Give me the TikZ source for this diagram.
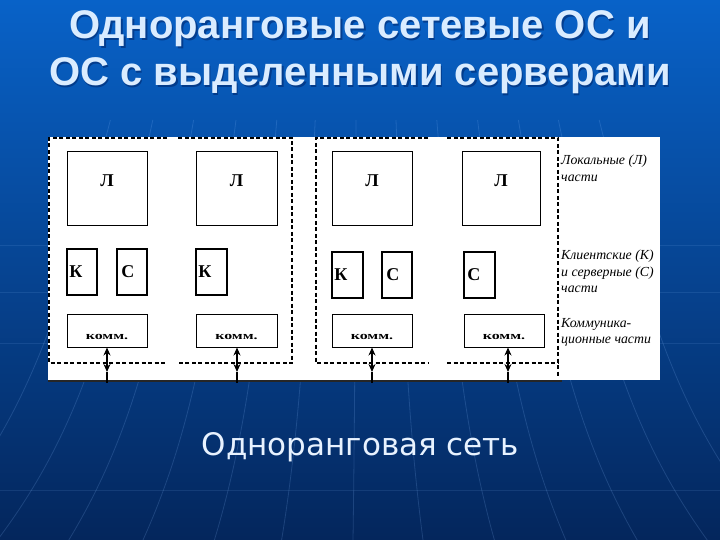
\documentclass[tikz,border=0pt]{standalone}
\usepackage{fontspec}
\usepackage{graphicx}
\setmainfont{Liberation Serif}
\newfontfamily\titlefont{Liberation Sans}
\newfontfamily\subfont{DejaVu Sans}
\usetikzlibrary{arrows.meta}
\definecolor{bgtop}{RGB}{8,98,200}
\definecolor{bgmid}{RGB}{8,72,160}
\definecolor{bgbot}{RGB}{4,38,92}
\definecolor{titlecol}{RGB}{218,236,255}
\definecolor{titleshadow}{RGB}{0,40,110}
\definecolor{subcol}{RGB}{232,242,255}
\definecolor{faint}{RGB}{140,190,255}
\tikzset{
  lbox/.style={draw, line width=1pt, minimum width=80pt, minimum height=74pt, inner sep=0pt},
  kbox/.style={draw, line width=1.6pt, minimum width=30pt, minimum height=46pt, inner sep=0pt},
  mbox/.style={draw, line width=1pt, minimum width=80pt, minimum height=33pt, inner sep=0pt},
  big/.style={font=\bfseries\fontsize{18}{18}\selectfont, inner sep=0pt},
  small/.style={font=\bfseries\fontsize{11}{11}\selectfont, inner sep=0pt},
  lbl/.style={font=\itshape\fontsize{13.8}{16.5}\selectfont, align=left, anchor=north west, inner sep=0pt},
  grp/.style={line width=1.5pt, dash pattern=on 4pt off 2.5pt},
  link/.style={line width=1.4pt, {Stealth[length=8pt,width=7pt]}-{Stealth[length=8pt,width=7pt]}},
  bgline/.style={faint, opacity=0.18, line width=0.8pt}
}
\begin{document}
\begin{tikzpicture}[x=1pt,y=-1pt]
\useasboundingbox (0,0) rectangle (720,540);
% background
\shade[top color=bgtop, middle color=bgmid, bottom color=bgbot] (0,0) rectangle (720,540);
\foreach \xx in {48,101,152,205,256,304,355,405,456,507,558,608,659}{
  \draw[bgline] ({360+(\xx-360)*0.8},120) .. controls ({360+(\xx-360)*0.95},300) and ({360+(\xx-360)*1.05},420) .. ({360+(\xx-360)*1.4},540);
}
\foreach \yy in {245,292,343,490}{
  \draw[bgline, opacity=0.12] (0,\yy) -- (720,\yy);
}
% title
\foreach \dx/\col/\op in {1.5/titleshadow/0.6, 0/titlecol/1}{
  \node[text=\col, opacity=\op, anchor=base, inner sep=0pt, font=\titlefont\bfseries\fontsize{40}{40}\selectfont]
    at (360+\dx,39+\dx) {Одноранговые сетевые ОС и};
  \node[text=\col, opacity=\op, anchor=base, inner sep=0pt, font=\titlefont\bfseries\fontsize{40}{40}\selectfont]
    at (360+\dx,86+\dx) {ОС с выделенными серверами};
}
% panel
\fill[white] (48,137) rectangle (660,380);
\draw[black!85, line width=1.5pt] (48,381) -- (562,381);
% groups
\draw[grp] (167,138) -- (49,138) -- (49,363) -- (167,363);
\draw[grp] (178,138) -- (292,138) -- (292,363) -- (178,363);
\draw[grp] (428,138) -- (316,138) -- (316,363) -- (428,363);
\draw[grp] (447,138) -- (558,138) -- (558,376);
\draw[grp] (447,363) -- (558,363);
% computer 1
\node[lbox] (L1) at (107,189) {};
\node[big] (tL1) at (107,181) {Л};
\node[kbox] (K1) at (82,272) {};
\node[big, anchor=west] (tK1) at ([xshift=3pt]K1.west) {К};
\node[kbox] (S1) at (132,272) {};
\node[big, anchor=west] (tS1) at ([xshift=5pt]S1.west) {С};
\node[mbox] (M1) at (107,330.5) {};
\node[small] (tM1) at ([yshift=-6pt]M1.center) {\scalebox{1.45}[1]{комм.}};
% computer 2
\node[lbox, minimum width=81pt] (L2) at (236.5,189) {};
\node[big] (tL2) at (236.5,181) {Л};
\node[kbox, minimum width=31pt] (K2) at (211.5,272) {};
\node[big, anchor=west] (tK2) at ([xshift=3pt]K2.west) {К};
\node[mbox, minimum width=81pt] (M2) at (236.5,330.5) {};
\node[small] (tM2) at ([yshift=-6pt]M2.center) {\scalebox{1.45}[1]{комм.}};
% computer 3
\node[lbox] (L3) at (372,189) {};
\node[big] (tL3) at (372,181) {Л};
\node[kbox, minimum width=31pt] (K3) at (347.5,275) {};
\node[big, anchor=west] (tK3) at ([xshift=3pt]K3.west) {К};
\node[kbox] (S3) at (397,275) {};
\node[big, anchor=west] (tS3) at ([xshift=5pt]S3.west) {С};
\node[mbox] (M3) at (372,330.5) {};
\node[small] (tM3) at ([yshift=-6pt]M3.center) {\scalebox{1.45}[1]{комм.}};
% computer 4
\node[lbox, minimum width=78pt] (L4) at (501,189) {};
\node[big] (tL4) at (501,181) {Л};
\node[kbox, minimum width=31pt] (S4) at (479.5,275) {};
\node[big, anchor=west] (tS4) at ([xshift=4pt]S4.west) {С};
\node[mbox] (M4) at (504,330.5) {};
\node[small] (tM4) at ([yshift=-6pt]M4.center) {\scalebox{1.45}[1]{комм.}};
% links
\foreach \i/\xx in {1/107,2/237,3/372,4/508}{
  \coordinate (e\i) at (\xx,372);
  \coordinate (f\i) at (\xx,383);
}
\draw[link] (M1.south -| e1) -- (e1);
\draw[link] (M2.south -| e2) -- (e2);
\draw[link] (M3.south -| e3) -- (e3);
\draw[link] (M4.south -| e4) -- (e4);
\foreach \i in {1,2,3,4}{ \draw[line width=1.3pt] (e\i) -- (f\i); }
% side labels
\node[lbl] (lab1) at (561,155) {Локальные (Л)\\части};
\node[lbl] (lab2) at (561,250) {Клиентские (К)\\и серверные (С)\\части};
\node[lbl] (lab3) at (561,318) {Коммуника-\\ционные части};
% subtitle
\node[text=subcol, anchor=base, inner sep=0pt, font=\subfont\fontsize{31}{31}\selectfont] (sub) at (360.5,455) {Одноранговая сеть};
\end{tikzpicture}
\end{document}
